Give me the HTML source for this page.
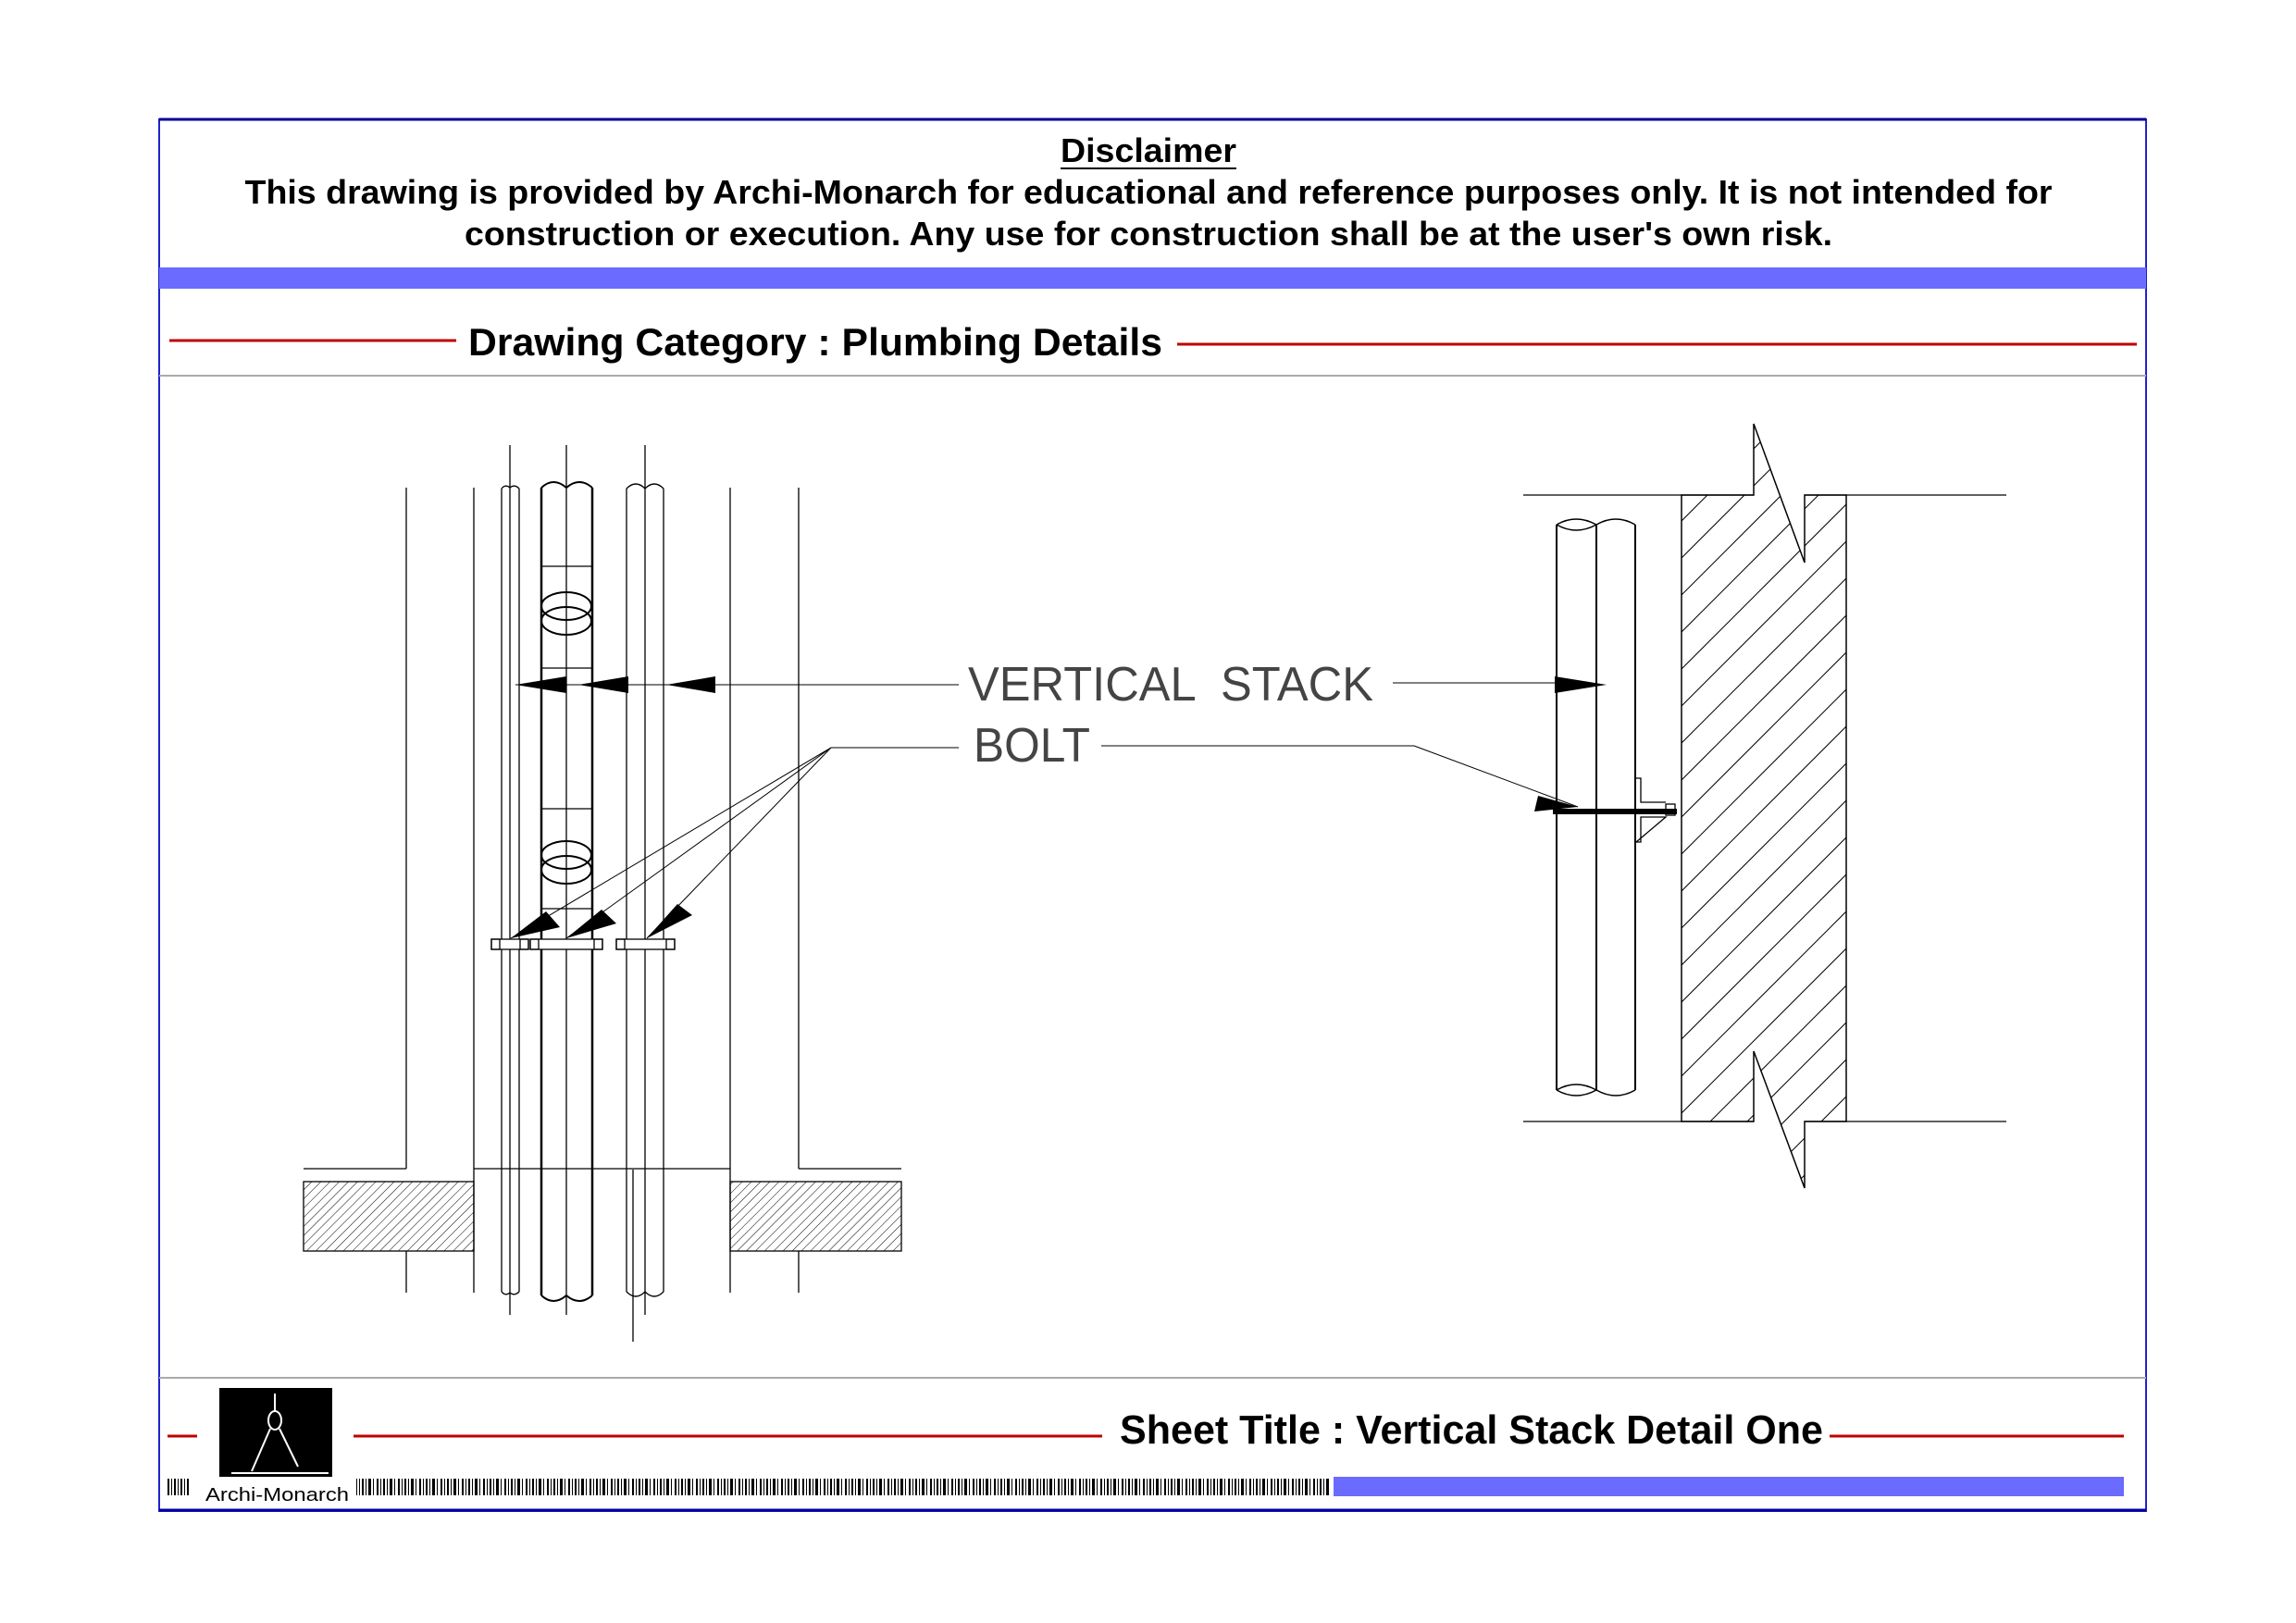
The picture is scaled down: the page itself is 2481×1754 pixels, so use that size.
<!DOCTYPE html>
<html><head><meta charset="utf-8"><style>
html,body{margin:0;padding:0;background:#fff;}
svg{display:block;}
text{font-family:"Liberation Sans",Arial,sans-serif;}
</style></head><body>
<svg width="2481" height="1754" viewBox="0 0 2481 1754" xmlns="http://www.w3.org/2000/svg">
<defs>
<pattern id="h1" patternUnits="userSpaceOnUse" width="7" height="7" patternTransform="rotate(45)">
<line x1="0" y1="0" x2="0" y2="7" stroke="#000" stroke-width="1"/>
</pattern>
<clipPath id="wall"><path d="M1817,535 L1895,535 L1895,458 L1950,608 L1950,535 L1995,535 L1995,1212 L1950,1212 L1950,1284 L1895,1136 L1895,1212 L1817,1212 Z"/></clipPath>
<pattern id="bc" patternUnits="userSpaceOnUse" width="23" height="18"><rect x="0" y="0" width="2" height="18" fill="#000"/><rect x="4" y="0" width="1" height="18" fill="#000"/><rect x="7" y="0" width="3" height="18" fill="#000"/><rect x="12" y="0" width="1" height="18" fill="#000"/><rect x="16" y="0" width="2" height="18" fill="#000"/><rect x="20" y="0" width="1" height="18" fill="#000"/></pattern>
</defs>
<rect x="172" y="129" width="2147" height="1504" fill="none" stroke="#2222cc" stroke-width="2"/>
<line x1="172" y1="129" x2="2319" y2="129" stroke="#000099" stroke-width="3"/>
<line x1="172" y1="1632" x2="2319" y2="1632" stroke="#000099" stroke-width="3"/>
<text x="1241" y="175" font-size="36" font-weight="bold" text-anchor="middle" textLength="190" lengthAdjust="spacingAndGlyphs">Disclaimer</text>
<line x1="1146" y1="182" x2="1336" y2="182" stroke="#000" stroke-width="2"/>
<text x="1241" y="220" font-size="36" font-weight="bold" text-anchor="middle" textLength="1953" lengthAdjust="spacingAndGlyphs">This drawing is provided by Archi-Monarch for educational and reference purposes only. It is not intended for</text>
<text x="1241" y="265" font-size="36" font-weight="bold" text-anchor="middle" textLength="1478" lengthAdjust="spacingAndGlyphs">construction or execution. Any use for construction shall be at the user's own risk.</text>
<rect x="172" y="289" width="2147" height="23" fill="#6b6bff"/>
<line x1="183" y1="368" x2="493" y2="368" stroke="#c00000" stroke-width="3"/>
<text x="506" y="384" font-size="42" font-weight="bold" textLength="750" lengthAdjust="spacingAndGlyphs">Drawing Category : Plumbing Details</text>
<line x1="1272" y1="372" x2="2309" y2="372" stroke="#c00000" stroke-width="3"/>
<line x1="172" y1="406" x2="2319" y2="406" stroke="#aaa" stroke-width="2"/>
<line x1="172" y1="1489" x2="2319" y2="1489" stroke="#aaa" stroke-width="2"/>
<line x1="181" y1="1552" x2="213" y2="1552" stroke="#c00000" stroke-width="3"/>
<line x1="382" y1="1552" x2="1191" y2="1552" stroke="#c00000" stroke-width="3"/>
<line x1="1977" y1="1552" x2="2295" y2="1552" stroke="#c00000" stroke-width="3"/>
<text x="1210" y="1560" font-size="44" font-weight="bold" textLength="760" lengthAdjust="spacingAndGlyphs">Sheet Title : Vertical Stack Detail One</text>
<rect x="237" y="1500" width="122" height="96" fill="#000"/>
<g stroke="#fff" stroke-width="2" fill="none">
<line x1="297" y1="1506" x2="297" y2="1525"/>
<ellipse cx="297" cy="1535" rx="7" ry="10"/>
<line x1="292" y1="1544" x2="272" y2="1590"/>
<line x1="302" y1="1544" x2="322" y2="1585"/>
<line x1="250" y1="1592" x2="355" y2="1592"/>
</g>
<g fill="#000">
<rect x="181" y="1598" width="2" height="18"/><rect x="185" y="1598" width="1" height="18"/><rect x="188" y="1598" width="2" height="18"/><rect x="192" y="1598" width="1" height="18"/><rect x="195" y="1598" width="2" height="18"/><rect x="199" y="1598" width="1" height="18"/><rect x="202" y="1598" width="2" height="18"/>
</g>
<text x="222" y="1622" font-size="20" textLength="155" lengthAdjust="spacingAndGlyphs">Archi-Monarch</text>
<rect x="385" y="1598" width="1052" height="18" fill="url(#bc)"/>
<rect x="1441" y="1596" width="854" height="21" fill="#6b6bff"/>

<g stroke="#000" stroke-width="1.3" fill="none">
<line x1="439" y1="527" x2="439" y2="1263"/><line x1="439" y1="1352" x2="439" y2="1397"/>
<line x1="512" y1="527" x2="512" y2="1397"/>
<line x1="789" y1="527" x2="789" y2="1397"/>
<line x1="863" y1="527" x2="863" y2="1263"/><line x1="863" y1="1352" x2="863" y2="1397"/>
<line x1="551" y1="481" x2="551" y2="1421"/>
<line x1="612" y1="481" x2="612" y2="1421"/>
<line x1="697" y1="481" x2="697" y2="1421"/>
<line x1="684" y1="1264" x2="684" y2="1450"/>
<line x1="542" y1="528" x2="542" y2="1396"/><line x1="561" y1="528" x2="561" y2="1396"/>
<path d="M542,528 Q546,523 551,527 Q556,523 561,528"/>
<path d="M542,1396 Q546,1401 551,1397 Q556,1401 561,1396"/>
<line x1="677" y1="528" x2="677" y2="1396"/><line x1="717" y1="528" x2="717" y2="1396"/>
<path d="M677,528 Q687,518 697,528 Q707,518 717,528"/>
<path d="M677,1396 Q687,1406 697,1396 Q707,1406 717,1396"/>
<line x1="585" y1="527" x2="585" y2="1400" stroke-width="2.5"/><line x1="640" y1="527" x2="640" y2="1400" stroke-width="2.5"/>
<path d="M585,527 Q598,515 612,527 Q626,515 640,527" stroke-width="2"/>
<path d="M585,1400 Q598,1412 612,1400 Q626,1412 640,1400" stroke-width="2"/>
<line x1="585" y1="612" x2="640" y2="612"/><line x1="585" y1="722" x2="640" y2="722"/>
<line x1="585" y1="874" x2="640" y2="874"/><line x1="585" y1="982" x2="640" y2="982"/>
<ellipse cx="612" cy="655" rx="27" ry="15" stroke-width="2"/><ellipse cx="612" cy="671" rx="27" ry="15" stroke-width="2"/>
<ellipse cx="612" cy="924" rx="27" ry="15" stroke-width="2"/><ellipse cx="612" cy="940" rx="27" ry="15" stroke-width="2"/>
<line x1="328" y1="1263" x2="439" y2="1263"/><line x1="512" y1="1263" x2="789" y2="1263"/><line x1="863" y1="1263" x2="974" y2="1263"/>
<rect x="328" y="1277" width="184" height="75" fill="url(#h1)"/>
<rect x="789" y="1277" width="185" height="75" fill="url(#h1)"/>
<rect x="531" y="1015" width="40" height="11" fill="#fff"/><rect x="573" y="1015" width="78" height="11" fill="#fff"/><rect x="666" y="1015" width="63" height="11" fill="#fff"/>
<rect x="531" y="1015" width="9" height="11"/><rect x="562" y="1015" width="9" height="11"/>
<rect x="573" y="1015" width="9" height="11"/><rect x="642" y="1015" width="9" height="11"/>
<rect x="666" y="1015" width="9" height="11"/><rect x="720" y="1015" width="9" height="11"/>
<line x1="557" y1="740" x2="1036" y2="740" stroke-width="1"/>
<line x1="1505" y1="738" x2="1690" y2="738" stroke-width="1"/>
<line x1="898" y1="808" x2="1036" y2="808" stroke-width="1"/>
<line x1="1190" y1="806" x2="1528" y2="806" stroke-width="1"/>
<line x1="1528" y1="806" x2="1705" y2="872" stroke-width="1"/>
<line x1="898" y1="808" x2="552" y2="1014" stroke-width="1"/>
<line x1="898" y1="808" x2="612" y2="1014" stroke-width="1"/>
<line x1="898" y1="808" x2="699" y2="1014" stroke-width="1"/>
</g>
<g fill="#000">
<polygon points="557,740 612,731 612,749"/>
<polygon points="625,740 679,731 679,749"/>
<polygon points="720,740 773,731 773,749"/>
<polygon points="552,1014 590,985 605,1002"/>
<polygon points="612,1014 650,983 666,998"/>
<polygon points="699,1014 732,977 748,989"/>
<polygon points="1736,740 1680,731 1680,749"/>
<polygon points="1705,872 1662,860 1658,877"/>
</g>
<text x="1046" y="757" font-size="52" fill="#444" textLength="438" lengthAdjust="spacingAndGlyphs" xml:space="preserve">VERTICAL  STACK</text>
<text x="1052" y="823" font-size="52" fill="#444" textLength="126" lengthAdjust="spacingAndGlyphs">BOLT</text>

<g stroke="#000" stroke-width="1.3" fill="none">
<line x1="1646" y1="535" x2="1895" y2="535"/><line x1="1950" y1="535" x2="2168" y2="535"/>
<line x1="1646" y1="1212" x2="1895" y2="1212"/><line x1="1950" y1="1212" x2="2168" y2="1212"/>
<g clip-path="url(#wall)" stroke-width="1">
<line x1="1780" y1="600" x2="2100" y2="280"/><line x1="1780" y1="640" x2="2100" y2="320"/><line x1="1780" y1="680" x2="2100" y2="360"/><line x1="1780" y1="720" x2="2100" y2="400"/>
<line x1="1780" y1="760" x2="2100" y2="440"/><line x1="1780" y1="800" x2="2100" y2="480"/><line x1="1780" y1="840" x2="2100" y2="520"/><line x1="1780" y1="880" x2="2100" y2="560"/>
<line x1="1780" y1="920" x2="2100" y2="600"/><line x1="1780" y1="960" x2="2100" y2="640"/><line x1="1780" y1="1000" x2="2100" y2="680"/><line x1="1780" y1="1040" x2="2100" y2="720"/>
<line x1="1780" y1="1080" x2="2100" y2="760"/><line x1="1780" y1="1120" x2="2100" y2="800"/><line x1="1780" y1="1160" x2="2100" y2="840"/><line x1="1780" y1="1200" x2="2100" y2="880"/>
<line x1="1780" y1="1240" x2="2100" y2="920"/><line x1="1780" y1="1280" x2="2100" y2="960"/><line x1="1780" y1="1320" x2="2100" y2="1000"/><line x1="1780" y1="1360" x2="2100" y2="1040"/>
<line x1="1780" y1="1400" x2="2100" y2="1080"/><line x1="1780" y1="1440" x2="2100" y2="1120"/><line x1="1780" y1="1480" x2="2100" y2="1160"/>
</g>
<path d="M1817,535 L1895,535 L1895,458 L1950,608 L1950,535 L1995,535 L1995,1212 L1950,1212 L1950,1284 L1895,1136 L1895,1212 L1817,1212 Z" stroke-width="1.5"/>
<line x1="1682" y1="567" x2="1682" y2="1178" stroke-width="2"/>
<line x1="1725" y1="567" x2="1725" y2="1178" stroke-width="2"/>
<line x1="1767" y1="567" x2="1767" y2="1178" stroke-width="2"/>
<path d="M1682,567 Q1703,555 1725,567 Q1746,555 1767,567" stroke-width="1.5"/>
<path d="M1682,567 Q1703,579 1725,567" stroke-width="1.5"/>
<path d="M1682,1178 Q1703,1166 1725,1178" stroke-width="1.5"/>
<path d="M1682,1178 Q1703,1190 1725,1178 Q1746,1190 1767,1178" stroke-width="1.5"/>
<path d="M1768,841 L1773,841 L1773,867 L1800,867 M1800,883 L1773,883 L1773,910 L1768,910 Z"/>
<rect x="1800" y="869" width="10" height="12"/>
</g>
<rect x="1678" y="874" width="134" height="6" fill="#000"/>
</svg>
</body></html>
